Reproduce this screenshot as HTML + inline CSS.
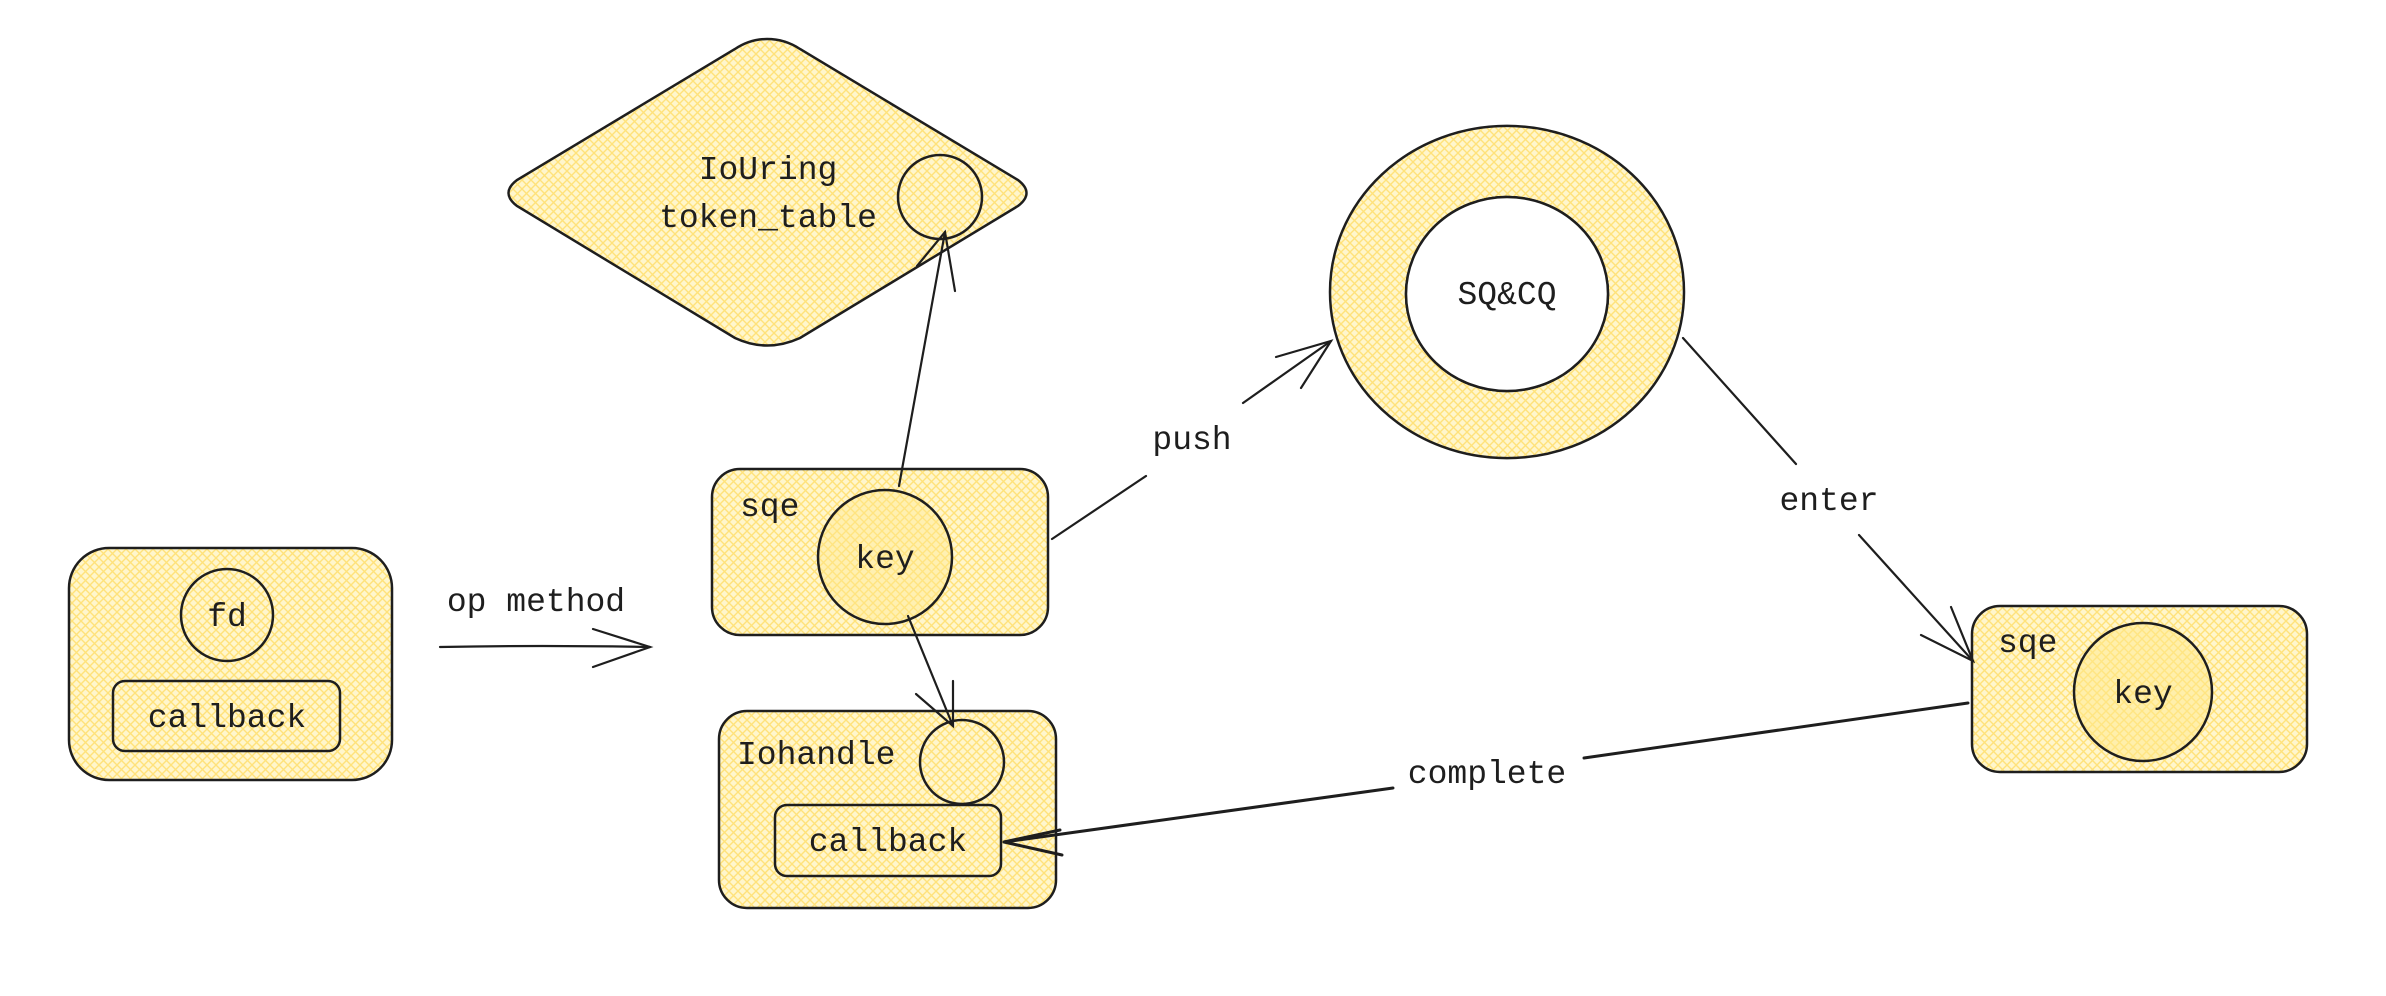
<!DOCTYPE html>
<html><head><meta charset="utf-8"><style>
html,body{margin:0;padding:0;background:#fff;overflow:hidden;}
svg{display:block;}
text{font-family:"Liberation Mono",monospace;font-size:33px;fill:#1e1e1e;}
</style></head><body>
<svg width="2386" height="996" viewBox="0 0 2386 996" xmlns="http://www.w3.org/2000/svg">
<defs>
<pattern id="h" width="9" height="9" patternUnits="userSpaceOnUse">
<rect width="9" height="9" fill="#fff6cc"/>
<path d="M0 0L9 9M9 0L0 9" stroke="#ffe27a" stroke-width="1.4"/>
</pattern>
</defs>
<g stroke="#1e1e1e" stroke-width="2.5" fill="url(#h)">
<path d="M767 39 Q785 39 800 49 L1018 180 Q1035 193 1018 206 L800 338 Q767 353 735 338 L517 206 Q500 193 517 180 L735 49 Q750 39 767 39Z"/>
<circle cx="940" cy="197" r="42"/>
<rect x="69" y="548" width="323" height="232" rx="40"/>
<circle cx="227" cy="615" r="46"/>
<rect x="113" y="681" width="227" height="70" rx="12"/>
<rect x="712" y="469" width="336" height="166" rx="28"/>
<rect x="719" y="711" width="337" height="197" rx="28"/>
<circle cx="962" cy="762" r="42"/>
<rect x="775" y="805" width="226" height="71" rx="12"/>
<path fill-rule="evenodd" d="M1330 292 a177 166 0 1 0 354 0 a177 166 0 1 0 -354 0Z M1406 294 a101 97 0 1 0 202 0 a101 97 0 1 0 -202 0Z"/>
<rect x="1972" y="606" width="335" height="166" rx="28"/>
</g>
<ellipse cx="1507" cy="294" rx="101" ry="97" fill="#fff" stroke="#1e1e1e" stroke-width="2.5"/>
<circle cx="2143" cy="692" r="69" fill="#ffe88a" fill-opacity="0.5" stroke="#1e1e1e" stroke-width="2.5"/>
<circle cx="885" cy="557" r="67" fill="#ffe88a" fill-opacity="0.4" stroke="#1e1e1e" stroke-width="2.5"/>
<g stroke="#1e1e1e" stroke-width="2.2" fill="none" stroke-linecap="round">
<path d="M440 647 Q540 645 650 647"/>
<path d="M593 629 L650 647 L593 667"/>
<path d="M899 486 L945 232"/>
<path d="M917 266 L945 232 L955 291"/>
<path d="M908 616 L953 726"/>
<path d="M916 694 L953 726 L953 681"/>
<path d="M1052 539 L1146 476"/>
<path d="M1243 403 L1331 341"/>
<path d="M1276 357 L1331 341 L1301 388"/>
<path d="M1683 338 L1796 464"/>
<path d="M1859 535 L1973 661"/>
<path d="M1921 635 L1973 661 L1951 607"/>
</g>
<g stroke="#1e1e1e" stroke-width="3" fill="none" stroke-linecap="round">
<path d="M1968 703 L1584 758"/>
<path d="M1393 788 L1004 842"/>
<path d="M1060 830 L1004 842 L1062 855"/>
</g>
<g text-anchor="middle">
<text x="768" y="179">IoUring</text>
<text x="768" y="227">token_table</text>
<text x="227" y="626">fd</text>
<text x="227" y="727">callback</text>
<text x="536" y="611">op method</text>
<text x="885" y="568">key</text>
<text x="888" y="851">callback</text>
<text x="1192" y="449">push</text>
<text x="1507" y="304">SQ&amp;CQ</text>
<text x="1829" y="510">enter</text>
<text x="2143" y="703">key</text>
<text x="1487" y="783">complete</text>
</g>
<text x="740" y="516">sqe</text>
<text x="737" y="764">Iohandle</text>
<text x="1998" y="652">sqe</text>
</svg>
</body></html>
